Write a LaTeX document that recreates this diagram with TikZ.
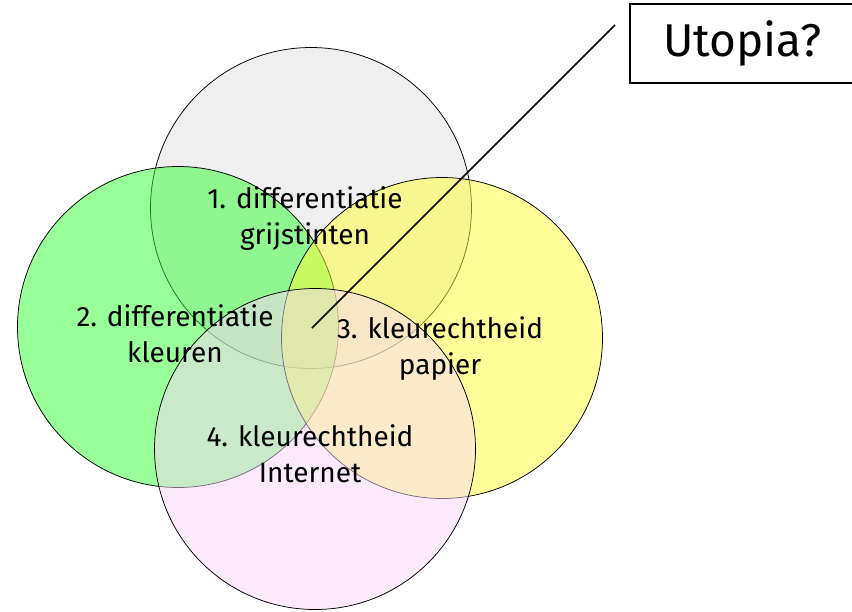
\documentclass[tikz,border=0pt]{standalone}
\usepackage{fontspec}
\setmainfont{Fira Sans}

\definecolor{grijs}{HTML}{DFDFDF}
\definecolor{groen}{HTML}{33FF33}
\definecolor{geel}{HTML}{FFFF33}
\definecolor{roze}{HTML}{FAD6FA}

\tikzset{
  vlak/.style={circle, draw=black, line width=0.75pt, fill opacity=0.5, minimum size=321pt, inner sep=0pt},
  tekst/.style={align=center, font=\fontsize{28pt}{36pt}\selectfont},
}

\begin{document}
\begin{tikzpicture}[x=1pt, y=-1pt]
      \useasboundingbox (0,0) rectangle (852,611);

      \node[vlak, fill=grijs, name=c1] at (311,208) {};
      \node[vlak, fill=groen, name=c2] at (178,327) {};
      \node[vlak, fill=geel, name=c3] at (442,338) {};
      \node[vlak, fill=roze, name=c4] at (315,449) {};

      \node[tekst, name=t1] at (305,219) {1. differentiatie\\grijstinten};
      \node[tekst, name=t2] at (175,334) {2. differentiatie\\kleuren};
      \node[tekst, name=t3] at (440,349) {3. kleurechtheid\\papier};
      \node[tekst, name=t4] at (310,454) {4. kleurechtheid\\Internet};

      \node[draw=black, line width=1.5pt, minimum width=225pt, minimum height=79pt,
            font=\fontsize{46pt}{50pt}\selectfont, name=utopia] at (742.5,43.5) {Utopia?};

      \coordinate (kern) at (312,328);
      \coordinate (staart) at (615,25);
      \draw[line width=1.5pt] (kern) -- (staart);
\end{tikzpicture}
\end{document}
